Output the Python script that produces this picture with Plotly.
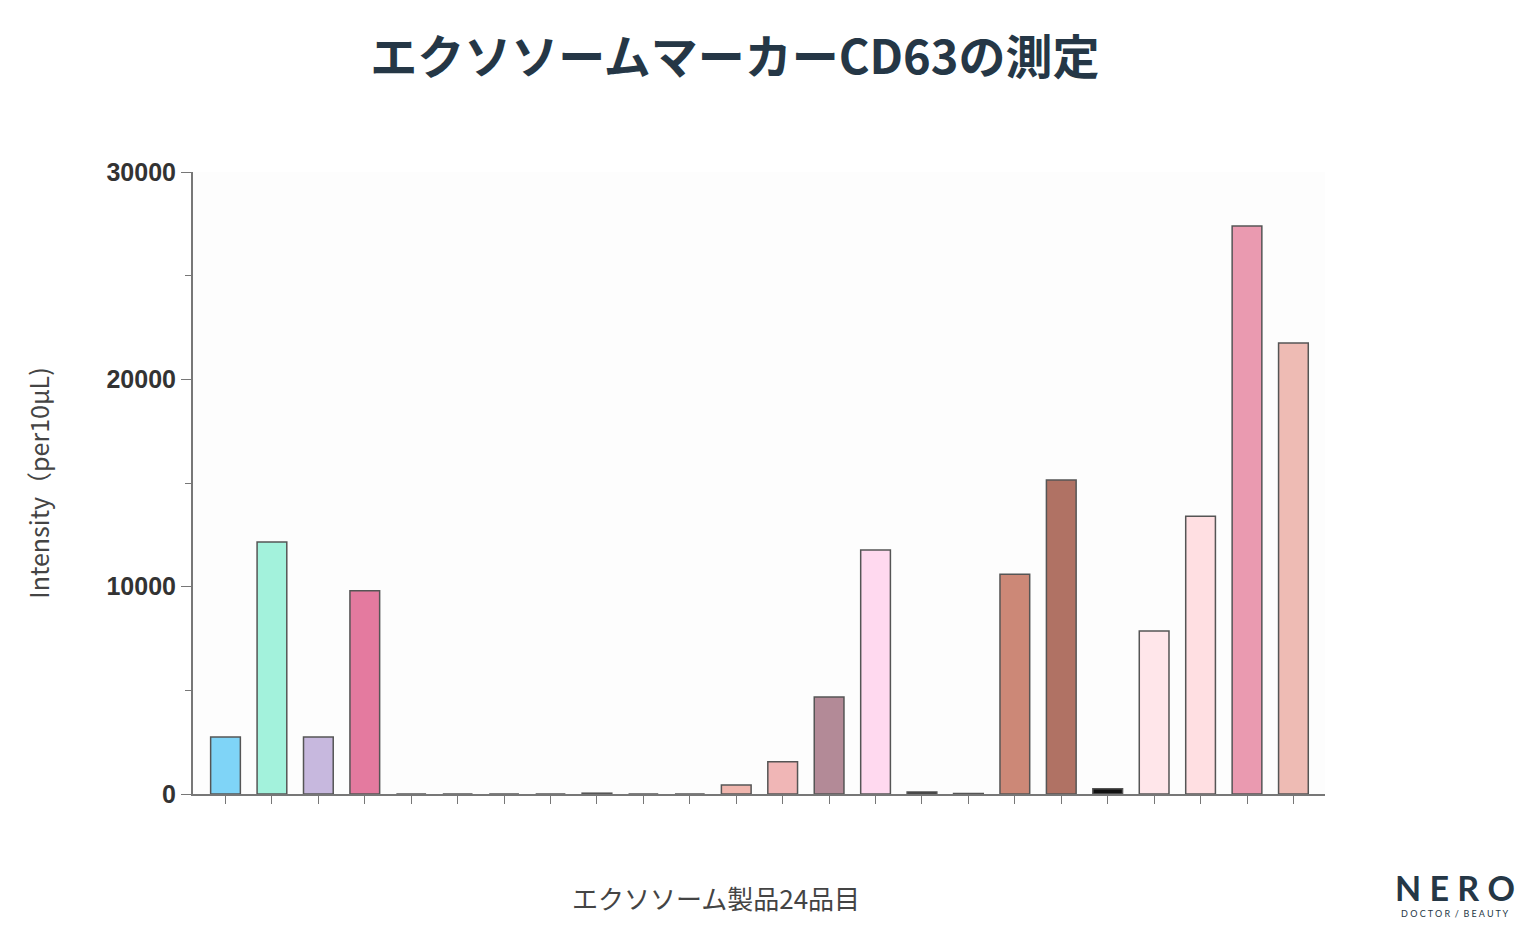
import plotly.graph_objects as go

# 24 exosome products, CD63 intensity (per 10 uL)
products = list(range(1, 25))
intensity = [2750, 12150, 2750, 9800, 0, 0, 0, 0, 40, 0, 0, 430,
             1550, 4680, 11770, 100, 30, 10600, 15150, 250, 7860, 13400, 27400, 21750]
bar_colors = ["#7fd4f7", "#a3f2dc", "#c7b8de", "#e47a9f", "#cccccc", "#cccccc",
              "#cccccc", "#cccccc", "#999999", "#cccccc", "#cccccc", "#f0b6ae",
              "#f0b6b6", "#b38a97", "#ffd9ef", "#222222", "#999999", "#cc8877",
              "#b07264", "#111111", "#ffe6ea", "#ffdfe2", "#ea9ab0", "#eebbb4"]
y_ticks = [0, 10000, 20000, 30000]
y_ticktext = ["0", "10000", "20000", "30000"]

fig = go.Figure(go.Bar(
    x=products, y=intensity, width=0.64,
    marker=dict(color=bar_colors, line=dict(color="#555555", width=1.5)),
))

fig.update_layout(
    width=1540, height=942,
    margin=dict(l=185, r=223, t=164, b=156),
    paper_bgcolor="white", plot_bgcolor="#fdfdfd",
    showlegend=False,
    title=dict(text="<b>エクソソームマーカーCD63の測定</b>", x=0.472, xanchor="center",
               y=0.965, font=dict(family="Noto Sans CJK JP", size=47, color="#253746")),
    font=dict(family="Noto Sans CJK JP"),
)
fig.update_xaxes(
    range=[0.3, 24.68], showticklabels=False, ticks="outside", ticklen=8,
    tickcolor="#777777", tickvals=products, showline=True, linecolor="#777777",
    linewidth=2, showgrid=False, zeroline=False,
)
fig.update_yaxes(
    range=[0, 30000], tickvals=y_ticks, ticktext=y_ticktext, ticks="outside",
    ticklen=10, tickcolor="#777777", showline=True, linecolor="#777777", linewidth=2,
    showgrid=False, zeroline=False,
    minor=dict(tickvals=[5000, 15000, 25000], ticks="outside", ticklen=6, tickcolor="#777777"),
    tickfont=dict(family="Liberation Sans", size=25, color="#333333", weight="bold"),
    title=dict(text="Intensity（per10μL)", standoff=50, font=dict(size=25, color="#444444")),
)

fig.add_annotation(xref="paper", yref="paper", x=0.462, y=-0.166, xanchor="center",
                   yanchor="middle", text="エクソソーム製品24品目", showarrow=False,
                   font=dict(size=26, color="#444444"))
fig.add_annotation(xref="paper", yref="paper", x=1.115, y=-0.151, xanchor="center",
                   yanchor="middle", text="<b>N E R O</b>", showarrow=False,
                   font=dict(family="Lato", size=34, color="#253746"))
fig.add_annotation(xref="paper", yref="paper", x=1.115, y=-0.192, xanchor="center",
                   yanchor="middle", text="D O C T O R  /  B E A U T Y", showarrow=False,
                   font=dict(family="Lato", size=9, color="#253746"))

fig.write_html("out.html")
